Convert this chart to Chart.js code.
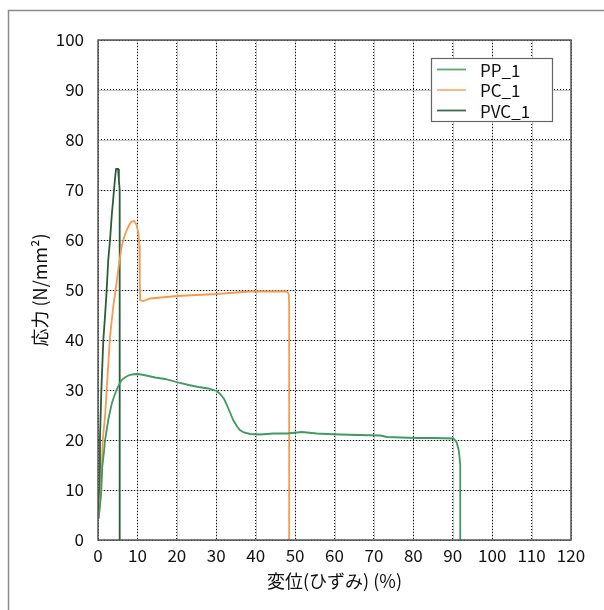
<!DOCTYPE html>
<html><head><meta charset="utf-8">
<script src="https://cdn.jsdelivr.net/npm/chart.js@4/dist/chart.umd.min.js"></script>
<style>html,body{margin:0;padding:0;background:#fff}#wrap{width:604px;height:610px;position:relative}</style>
</head><body><div id="wrap"><canvas id="c" width="604" height="610"></canvas></div>
<script>
const seriesNames = ['PP_1', 'PC_1', 'PVC_1'];
const xTicks = [0,10,20,30,40,50,60,70,80,90,100,110,120];
const yTicks = [0,10,20,30,40,50,60,70,80,90,100];

const ppX = [0.2,0.5,0.8,1.1,1.5,1.8,2.2,2.6,3.0,3.5,4.0,4.7,5.3,6.0,6.8,7.7,8.7,9.8,11,12.8,14.5,17,20.8,23,25.5,28,30.1,31,32,32.7,33.5,34.3,35.2,36,37,38.6,41,44.5,48,51.7,55.5,58,61.4,66,71.6,73.3,77,80.9,85,90.2,91,91.5,91.7,91.9,91.9];
const ppY = [4.7,7,9.3,14.7,17.5,20,22,24,25.5,27.3,28.5,30,31,32,32.5,32.9,33.1,33.2,33.1,32.8,32.5,32.2,31.4,31,30.6,30.3,29.8,29.2,28.2,27,25.5,24,22.8,22,21.5,21.2,21.1,21.3,21.3,21.6,21.3,21.2,21.1,21,20.9,20.6,20.5,20.4,20.4,20.3,19.5,18,16.7,15,0];

const pcX = [0.2,0.5,0.7,1.0,1.2,1.5,1.8,2.2,2.6,3.05,3.5,4.0,4.7,5.3,6.0,6.6,7.3,7.9,8.5,9.2,9.8,10.2,10.5,10.6,10.7,11.5,13.2,16,20,25,30.1,35,38.6,43,47.5,48.2,48.4,48.5,48.5];
const pcY = [4.5,7,10,15,20,22.5,24.7,30,35,40.7,44,47.5,51.3,55,58.7,60.5,62,63,63.7,63.8,63,61.5,59,52,48,47.8,48.3,48.5,48.8,49,49.2,49.5,49.7,49.7,49.7,49.5,49,47,0];

const pvcX = [0.1,0.2,0.3,0.5,0.85,1.1,1.35,1.8,2.2,2.6,3.05,3.5,4.06,4.4,4.6,5.1,5.3,5.5,5.5];
const pvcY = [4.5,7,10,20,30,35,40,45,50,56,60,65,70,73,74.2,74.2,72,70,0];

const colors = ['#3f9b62', '#f59a4f', '#2e5b3a'];
const legendColors = ['#5aa878', '#f8b07a', '#3d6b4a'];

function pts(xs, ys){ return xs.map((x,i)=>({x:x, y:ys[i]})); }

const FONT = "'Noto Sans CJK JP', 'Noto Sans', sans-serif";

const framePlugin = {
  id:'frame',
  beforeDraw(chart){
    const ctx = chart.ctx, a = chart.chartArea;
    ctx.save();
    ctx.fillStyle='#fff'; ctx.fillRect(0,0,chart.width,chart.height);
    ctx.strokeStyle='#8a8a8a'; ctx.lineWidth=1.5;
    ctx.beginPath(); ctx.moveTo(8.5,chart.height+2); ctx.lineTo(8.5,10.5); ctx.lineTo(chart.width+2,10.5); ctx.stroke();
    ctx.strokeStyle='#c4c4c4'; ctx.lineWidth=1;
    const xs = chart.scales.x, ys = chart.scales.y;
    xTicks.forEach(v=>{const px=Math.round(xs.getPixelForValue(v))+0.5; ctx.beginPath(); ctx.moveTo(px,a.top); ctx.lineTo(px,a.bottom); ctx.stroke();});
    yTicks.forEach(v=>{const py=Math.round(ys.getPixelForValue(v))+0.5; ctx.beginPath(); ctx.moveTo(a.left,py); ctx.lineTo(a.right,py); ctx.stroke();});
    ctx.restore();
  },
  afterDraw(chart){
    const ctx = chart.ctx, a = chart.chartArea;
    ctx.save();
    ctx.strokeStyle='#555'; ctx.lineWidth=1.5; ctx.setLineDash([]);
    ctx.strokeRect(a.left, a.top, a.right-a.left, a.bottom-a.top);
    const bx=431.5, by=58.5, bw=121, bh=63;
    ctx.fillStyle='#fff'; ctx.fillRect(bx,by,bw,bh);
    ctx.strokeStyle='#666'; ctx.lineWidth=1.2; ctx.strokeRect(bx,by,bw,bh);
    ctx.font = "17px " + FONT; ctx.textBaseline='middle'; ctx.textAlign='left';
    chart.data.datasets.forEach((ds,i)=>{
      const yy = 69.5 + i*20.5;
      ctx.strokeStyle = legendColors[i]; ctx.lineWidth=1.8;
      ctx.beginPath(); ctx.moveTo(437, yy); ctx.lineTo(466, yy); ctx.stroke();
      ctx.fillStyle='#111'; ctx.fillText(ds.label, 480, yy+1);
    });
    ctx.restore();
  }
};

new Chart(document.getElementById('c'), {
  type:'line',
  data:{ datasets:[
    {label:seriesNames[0], data:pts(ppX,ppY), borderColor:colors[0], borderWidth:1.8},
    {label:seriesNames[1], data:pts(pcX,pcY), borderColor:colors[1], borderWidth:1.8},
    {label:seriesNames[2], data:pts(pvcX,pvcY), borderColor:colors[2], borderWidth:1.8}
  ]},
  options:{
    responsive:false, animation:false, devicePixelRatio:1,
    parsing:false,
    elements:{ point:{radius:0}, line:{tension:0, fill:false} },
    layout:{ padding:{ left:0, top:40, right:33, bottom:0 } },
    plugins:{ legend:{display:false}, tooltip:{enabled:false} },
    scales:{
      x:{ type:'linear', min:0, max:120,
        afterBuildTicks(s){ s.ticks = xTicks.map(v=>({value:v})); },
        afterFit(s){ s.height = 70; },
        grid:{ color:'#111', lineWidth:1, drawTicks:false },
        border:{ display:false, dash:[1,2] },
        ticks:{ padding:5, color:'#111', font:{ family:FONT, size:17 }, maxRotation:0, autoSkip:false },
        title:{ display:true, text:'変位(ひずみ) (%)', color:'#111', font:{family:FONT, size:18}, padding:{top:0,bottom:18} }
      },
      y:{ type:'linear', min:0, max:100,
        afterBuildTicks(s){ s.ticks = yTicks.map(v=>({value:v})); },
        afterFit(s){ s.width = 98; },
        grid:{ color:'#111', lineWidth:1, drawTicks:false },
        border:{ display:false, dash:[1,2] },
        ticks:{ padding:14, color:'#111', font:{ family:FONT, size:17 }, autoSkip:false },
        title:{ display:true, text:'応力 (N/mm²)', color:'#111', font:{family:FONT, size:18}, padding:{top:29,bottom:0} }
      }
    }
  },
  plugins:[framePlugin]
});
</script></body></html>
